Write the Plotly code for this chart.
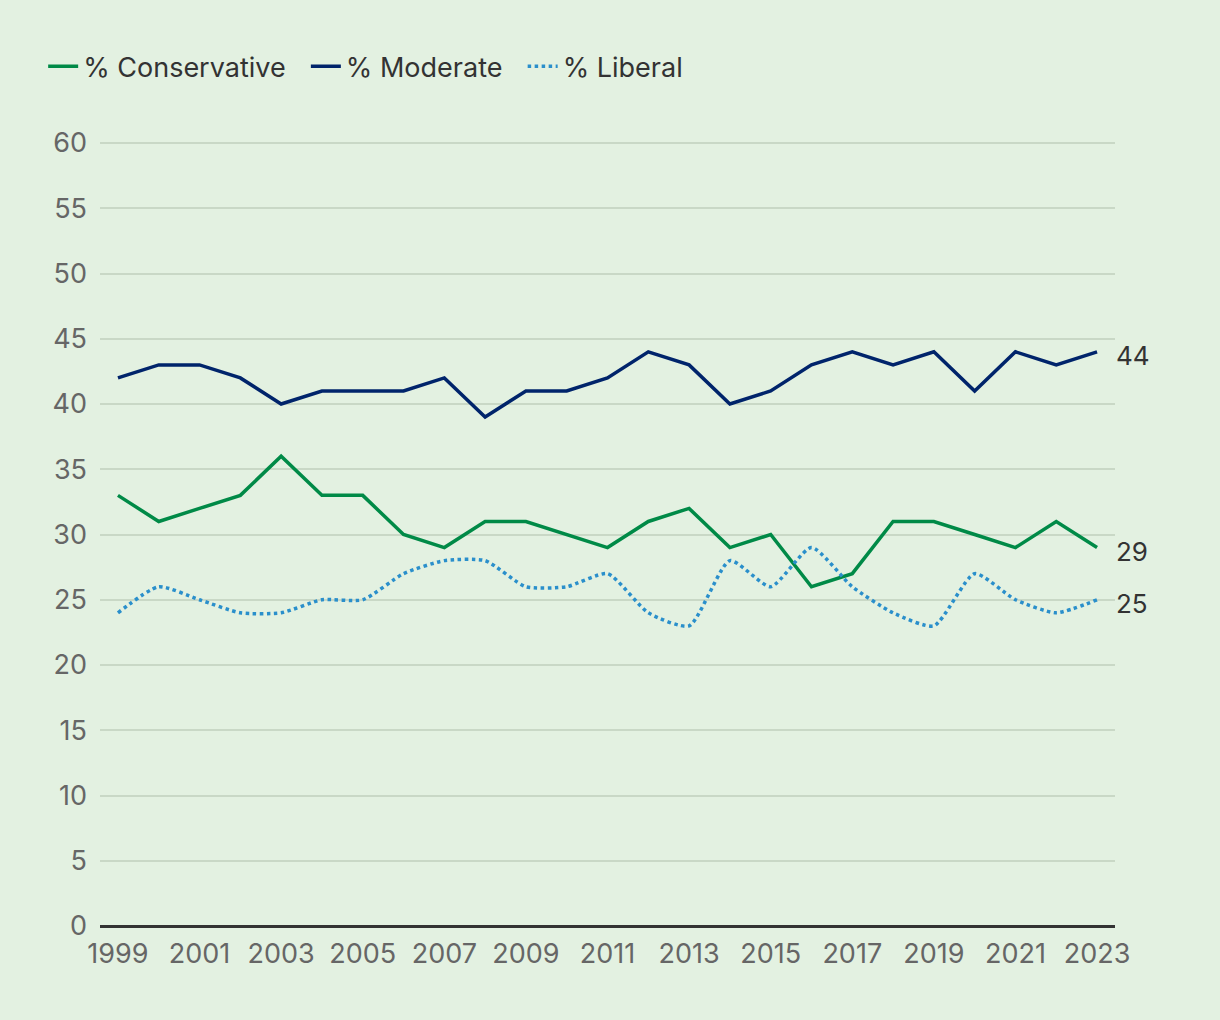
import plotly.graph_objects as go

years = list(range(1999, 2024))
conservative = [33, 31, 32, 33, 36, 33, 33, 30, 29, 31, 31, 30, 29, 31, 32, 29, 30, 26, 27, 31, 31, 30, 29, 31, 29]
moderate = [42, 43, 43, 42, 40, 41, 41, 41, 42, 39, 41, 41, 42, 44, 43, 40, 41, 43, 44, 43, 44, 41, 44, 43, 44]
liberal = [24, 26, 25, 24, 24, 25, 25, 27, 28, 28, 26, 26, 27, 24, 23, 28, 26, 29, 26, 24, 23, 27, 25, 24, 25]
series_names = ["% Conservative", "% Moderate", "% Liberal"]
tick_years = list(range(1999, 2024, 2))
y_ticks = list(range(0, 61, 5))

GREEN = "#008A47"
NAVY = "#00246B"
BLUE = "#2A8FCB"
BG = "#E3F1E1"
FONT = "Inter, Roboto, sans-serif"
FS = 27
PAD = "\u00a0\u00a0"

fig = go.Figure()
fig.add_trace(go.Scatter(x=years, y=conservative, name=series_names[0] + PAD, mode="lines",
                         line=dict(color=GREEN, width=3.5)))
fig.add_trace(go.Scatter(x=years, y=moderate, name=series_names[1] + PAD, mode="lines",
                         line=dict(color=NAVY, width=3.5)))
fig.add_trace(go.Scatter(x=years, y=liberal, name=series_names[2], mode="lines",
                         line=dict(color=BLUE, width=3.5, dash="dot", shape="spline", smoothing=0.6)))

for vals in (moderate, conservative, liberal):
    fig.add_annotation(x=years[-1], y=vals[-1], text=str(vals[-1]), showarrow=False,
                       xanchor="left", yanchor="middle", xshift=17, yshift=-4,
                       font=dict(family=FONT, size=FS - 1, color="#333333"))

fig.update_layout(
    width=1220, height=1020,
    paper_bgcolor=BG, plot_bgcolor=BG,
    margin=dict(l=100, r=105, t=142, b=94),
    font=dict(family=FONT, size=FS, color="#666666"),
    showlegend=True,
    legend=dict(orientation="h", x=-0.056, xanchor="left", y=1.096, yanchor="middle",
                font=dict(family=FONT, size=FS, color="#333333"),
                bgcolor="rgba(0,0,0,0)", itemwidth=30, tracegroupgap=0,
                traceorder="normal"),
    xaxis=dict(range=[1998.56, 2023.44], tickvals=tick_years, ticktext=[str(y) for y in tick_years],
               showgrid=False, zeroline=False, showline=False, ticks="",
               ticklabelstandoff=9,
               tickfont=dict(family=FONT, size=FS, color="#666666")),
    yaxis=dict(range=[0, 60.08], tickvals=y_ticks, showgrid=True, gridcolor="#C9D8C6", gridwidth=1.5,
               zeroline=True, zerolinecolor="#333333", zerolinewidth=2.5, ticks="",
               ticklabelstandoff=12,
               tickfont=dict(family=FONT, size=FS, color="#666666")),
)

post = ("document.body.style.margin='0';document.body.style.padding='0';"
        "document.documentElement.style.background='%s';document.body.style.background='%s';" % (BG, BG))
fig.write_html("out.html", post_script=post, config={"displayModeBar": False})
